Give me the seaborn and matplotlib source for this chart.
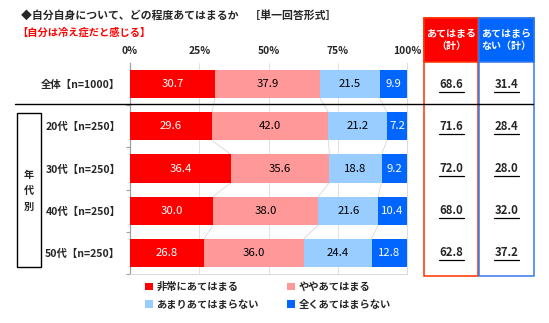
import numpy as np
import pandas as pd
import matplotlib
matplotlib.use('Agg')
import matplotlib.pyplot as plt
import seaborn as sns
from matplotlib.patches import Rectangle, Patch
from matplotlib.lines import Line2D
from matplotlib.transforms import blended_transform_factory

# ---------------- data ----------------
categories = ['全体【n=1000】', '20代【n=250】', '30代【n=250】', '40代【n=250】', '50代【n=250】']
series_names = ['非常にあてはまる', 'ややあてはまる', 'あまりあてはまらない', '全くあてはまらない']
very_much = [30.7, 29.6, 36.4, 30.0, 26.8]
somewhat = [37.9, 42.0, 35.6, 38.0, 36.0]
not_much = [21.5, 21.2, 18.8, 21.6, 24.4]
not_at_all = [9.9, 7.2, 9.2, 10.4, 12.8]
applies_total = [68.6, 71.6, 72.0, 68.0, 62.8]
not_applies_total = [31.4, 28.4, 28.0, 32.0, 37.2]
xtick_values = [0, 25, 50, 75, 100]
xtick_labels = ['0%', '25%', '50%', '75%', '100%']
title_text = '◆自分自身について、どの程度あてはまるか　［単一回答形式］'
subtitle_text = '【自分は冷え症だと感じる】'
group_label = '年\n代\n別'
header_applies = 'あてはまる\n（計）'
header_not_applies = 'あてはまら\nない（計）'

colors = ['#FF0000', '#FF9999', '#99CCFF', '#0066FF']
text_colors = ['white', 'black', 'black', 'white']

sns.set_theme(style='white')
plt.rcParams['font.family'] = ['Noto Sans CJK JP', 'DejaVu Sans']

W, H = 549, 323
fig = plt.figure(figsize=(W / 100, H / 100), dpi=100)
fx = lambda px: px / W
fy = lambda py: 1 - py / H

ax = fig.add_axes([fx(130), fy(274), fx(407) - fx(130), fy(63) - fy(274)])

series = [very_much, somewhat, not_much, not_at_all]
df = pd.DataFrame({'category': categories})
cum = np.zeros(len(categories))
cums = []
for i, s in enumerate(series):
    cum = cum + np.array(s)
    df[f'cum{i}'] = cum
    cums.append(cum.copy())

bar_h = 0.67
for i in reversed(range(4)):
    sns.barplot(data=df, x=f'cum{i}', y='category', orient='h', color=colors[i],
                saturation=1, width=bar_h, errorbar=None, linewidth=0, ax=ax, zorder=3)

# value labels
for i, s in enumerate(series):
    starts = cums[i] - np.array(s)
    for k, v in enumerate(s):
        ax.text(starts[k] + v / 2, k, f'{v:.1f}', ha='center', va='center',
                fontsize=8.2, color=text_colors[i], zorder=5)

# connector lines between bars
for k in range(len(categories) - 1):
    for i in range(3):
        ax.plot([cums[i][k], cums[i][k + 1]], [k + bar_h / 2, k + 1 - bar_h / 2],
                color='#D8D8D8', lw=0.6, zorder=2)

ax.set_xlim(0, 100)
ax.set_ylim(len(categories) - 0.5, -0.5)
ax.set_xlabel('')
ax.set_ylabel('')
ax.xaxis.tick_top()
ax.set_xticks(xtick_values)
ax.set_xticklabels(xtick_labels, fontsize=7.4, fontweight='bold')
ax.tick_params(axis='x', length=0, pad=5)
ax.set_yticks(range(len(categories)))
ax.set_yticklabels(categories, fontsize=7.5, fontweight='bold')
ax.tick_params(axis='y', which='major', length=0, pad=7)
ax.set_yticks(np.arange(0.5, len(categories) + 0.5, 1), minor=True)
ax.tick_params(axis='y', which='minor', length=3, color='#A0A0A0', width=0.8, left=True)
ax.grid(axis='x', color='#DCDCDC', lw=0.6, zorder=0)
ax.set_axisbelow(True)
ax.spines['top'].set_visible(False)
for side in ['right', 'bottom']:
    ax.spines[side].set_color('#DCDCDC')
    ax.spines[side].set_linewidth(0.8)
ax.spines['left'].set_color('#A0A0A0')
ax.spines['left'].set_linewidth(0.9)

# titles
fig.text(fx(21), fy(15), title_text, fontsize=7.85, fontweight='bold', va='center', ha='left')
fig.text(fx(17), fy(33), subtitle_text, fontsize=7.4, fontweight='bold', color='#FF0000',
         va='center', ha='left')

# separator line
fig.add_artist(Line2D([fx(15), fx(533)], [fy(104), fy(104)], color='black', lw=1.0))

# age-group box
fig.add_artist(Rectangle((fx(17), fy(267)), fx(41) - fx(17), fy(113) - fy(267),
                         fill=False, edgecolor='black', lw=1.0))
fig.text(fx(29), fy(191), group_label, fontsize=7.3, fontweight='bold', ha='center',
         va='center', linespacing=1.75)

# right-side summary columns
tr = blended_transform_factory(fig.transFigure, ax.transData)
boxes = [
    (424, 478, '#FF0000', '#FF3300', header_applies, applies_total),
    (479, 534, '#0066FF', '#3377EE', header_not_applies, not_applies_total),
]
for x0, x1, fillc, edgec, head, vals in boxes:
    fig.add_artist(Rectangle((fx(x0), fy(276)), fx(x1) - fx(x0), fy(18) - fy(276),
                             fill=False, edgecolor=edgec, lw=1.1))
    fig.add_artist(Rectangle((fx(x0), fy(62)), fx(x1) - fx(x0), fy(18) - fy(62),
                             facecolor=fillc, edgecolor=edgec, lw=1.1))
    xc = (x0 + x1) / 2
    fig.text(fx(xc), fy(40), head, color='white', fontsize=7.2, fontweight='bold',
             ha='center', va='center', linespacing=1.25)
    for k, v in enumerate(vals):
        ax.text(fx(xc), k, f'{v:.1f}', transform=tr, ha='center', va='center',
                fontsize=8.2, fontweight='bold', clip_on=False)
        ax.plot([fx(xc - 12.5), fx(xc + 12.5)], [k + 0.18, k + 0.18], transform=tr,
                color='black', lw=0.9, clip_on=False)

# legend (row-wise order)
order = [0, 2, 1, 3]
handles = [Patch(facecolor=colors[i], edgecolor='none') for i in order]
labels = [series_names[i] for i in order]
fig.legend(handles, labels, loc='upper left', bbox_to_anchor=(fx(145), fy(282)),
           ncol=2, frameon=False, prop={'size': 7.4, 'weight': 'bold'},
           handlelength=0.75, handleheight=0.75, handletextpad=0.35,
           columnspacing=2.75, labelspacing=0.75, borderaxespad=0, borderpad=0)

fig.savefig('out.png', dpi=100)
